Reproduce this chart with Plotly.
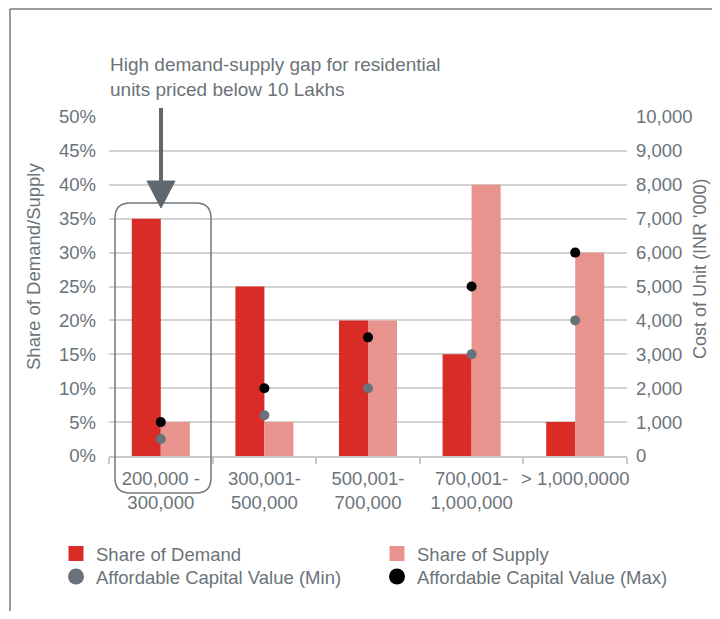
import plotly.graph_objects as go

# data
price_bands = ["200,000 -<br>300,000", "300,001-<br>500,000", "500,001-<br>700,000",
               "700,001-<br>1,000,000", "> 1,000,0000"]
share_demand = [35, 25, 20, 15, 5]          # %
share_supply = [5, 5, 20, 40, 30]           # %
capital_min = [500, 1200, 2000, 3000, 4000]   # INR '000
capital_max = [1000, 2000, 3500, 5000, 6000]  # INR '000

RED = "#d92c26"
PINK = "#e9938f"
GREY_DOT = "#69727a"
TXT = "#6b7379"
GRID = "#d3d3d3"
FONT = "Liberation Sans, Arial, sans-serif"

# page body has an 8px margin, so the figure is drawn 8px in from the window corner;
# keep it small enough that the page does not overflow the window
OFF = 8
W, H = 720 - 2 * OFF, 619 - 2 * OFF
L, T, PW, PH = 101, 109, 518, 339
R, B = W - L - PW, H - T - PH


def px(x, y):
    # window pixel position -> paper coords
    return (x - OFF - L) / PW, (T + PH - (y - OFF)) / PH


fig = go.Figure()
fig.add_trace(go.Bar(x=price_bands, y=share_demand, name="Share of Demand", showlegend=False,
                     marker=dict(color=RED, line_width=0)))
fig.add_trace(go.Bar(x=price_bands, y=share_supply, name="Share of Supply", showlegend=False,
                     marker=dict(color=PINK, line_width=0)))
fig.add_trace(go.Scatter(x=price_bands, y=capital_min, yaxis="y2", mode="markers",
                         name="Affordable Capital Value (Min)", showlegend=False,
                         marker=dict(color=GREY_DOT, size=10)))
fig.add_trace(go.Scatter(x=price_bands, y=capital_max, yaxis="y2", mode="markers",
                         name="Affordable Capital Value (Max)", showlegend=False,
                         marker=dict(color="black", size=10)))

# legend entries (one legend box each so the 2x2 grid sits where the reference has it)
legend_items = [
    ("Share of Demand", RED, "square", 15, "legend", 56, 535),
    ("Share of Supply", PINK, "square", 15, "legend2", 377, 535),
    ("Affordable Capital Value (Min)", GREY_DOT, "circle", 16, "legend3", 56, 558),
    ("Affordable Capital Value (Max)", "black", "circle", 16, "legend4", 377, 558),
]
legend_layout = {}
for name, col, sym, size, leg, lx_, ly_ in legend_items:
    fig.add_trace(go.Scatter(x=[None], y=[None], mode="markers", name=name, legend=leg,
                             marker=dict(color=col, symbol=sym, size=size)))
    lx, ly = px(lx_, ly_)
    legend_layout[leg] = dict(x=lx, y=ly, xanchor="left", yanchor="top", bgcolor="rgba(0,0,0,0)",
                              font=dict(size=18.5, color=TXT, family=FONT))

shapes = []
# outer frame (top + left edges of the cropped box)
x0, y0 = px(10, 9)
x1, _ = px(730, 9)
_, y1 = px(10, 630)
shapes.append(dict(type="line", xref="paper", yref="paper", x0=x0, y0=y0, x1=x1, y1=y0,
                   line=dict(color="#767c80", width=1.5)))
shapes.append(dict(type="line", xref="paper", yref="paper", x0=x0, y0=y0, x1=x0, y1=y1,
                   line=dict(color="#767c80", width=1.5)))

# rounded box around first group
bx0, by0 = px(115, 203)
bx1, by1 = px(211, 493)
rx, ry = 15 / PW, 15 / PH
path = (f"M{bx0 + rx},{by0} L{bx1 - rx},{by0} Q{bx1},{by0} {bx1},{by0 - ry} "
        f"L{bx1},{by1 + ry} Q{bx1},{by1} {bx1 - rx},{by1} "
        f"L{bx0 + rx},{by1} Q{bx0},{by1} {bx0},{by1 + ry} "
        f"L{bx0},{by0 - ry} Q{bx0},{by0} {bx0 + rx},{by0} Z")
shapes.append(dict(type="path", xref="paper", yref="paper", path=path,
                   line=dict(color="#70777c", width=1.5)))

# arrow
ax, ay0 = px(161, 108)
_, ay1 = px(161, 185)
shapes.append(dict(type="line", xref="paper", yref="paper", x0=ax, y0=ay0, x1=ax, y1=ay1,
                   line=dict(color="#5e686e", width=4)))
tlx, tly = px(147, 181)
trx, _ = px(175, 181)
_, tipy = px(161, 208)
shapes.append(dict(type="path", xref="paper", yref="paper",
                   path=f"M{tlx},{tly} L{trx},{tly} L{ax},{tipy} Z",
                   fillcolor="#5e686e", line=dict(color="#5e686e", width=1)))

annotations = []
nx, ny = px(108, 52)
annotations.append(dict(xref="paper", yref="paper", x=nx, y=ny, xanchor="left", yanchor="top",
                        showarrow=False, align="left",
                        text="High demand-supply gap for residential<br>units priced below 10 Lakhs",
                        font=dict(size=19, color=TXT, family=FONT)))
lx, ly = px(33, 267)
annotations.append(dict(xref="paper", yref="paper", x=lx, y=ly, xanchor="center", yanchor="middle",
                        showarrow=False, textangle=-90, text="Share of Demand/Supply",
                        font=dict(size=18.5, color=TXT, family=FONT)))
rtx, rty = px(700, 269)
annotations.append(dict(xref="paper", yref="paper", x=rtx, y=rty, xanchor="center", yanchor="middle",
                        showarrow=False, textangle=-90, text="Cost of Unit (INR '000)",
                        font=dict(size=18, color=TXT, family=FONT)))

fig.update_layout(
    width=W, height=H,
    margin=dict(l=L, r=R, t=T, b=B, autoexpand=False),
    paper_bgcolor="white", plot_bgcolor="white",
    font=dict(family=FONT, size=18.5, color=TXT),
    barmode="group", bargap=0.44, bargroupgap=0,
    showlegend=True,
    xaxis=dict(range=[-0.5, 4.5], showgrid=False, showline=True, linecolor="#c9c9c9", linewidth=2,
               ticks="outside", tickson="boundaries", ticklen=6, tickcolor="#c9c9c9", tickwidth=2,
               tickangle=0, ticklabelstandoff=5, tickfont=dict(size=18.5, color=TXT),
               automargin=False, fixedrange=True),
    yaxis=dict(range=[0, 50], dtick=5, ticksuffix="%", showgrid=True, gridcolor=GRID, gridwidth=2,
               zeroline=False, showline=False, ticks="", ticklabelstandoff=12,
               tickfont=dict(size=18.5, color=TXT), automargin=False),
    yaxis2=dict(range=[0, 10000], dtick=1000, tickformat=",", overlaying="y", side="right",
                showgrid=False, zeroline=False, showline=False, ticks="", ticklabelstandoff=8,
                tickfont=dict(size=18.5, color=TXT), automargin=False),
    shapes=shapes,
    annotations=annotations,
    **legend_layout,
)

fig.write_html("out.html")
